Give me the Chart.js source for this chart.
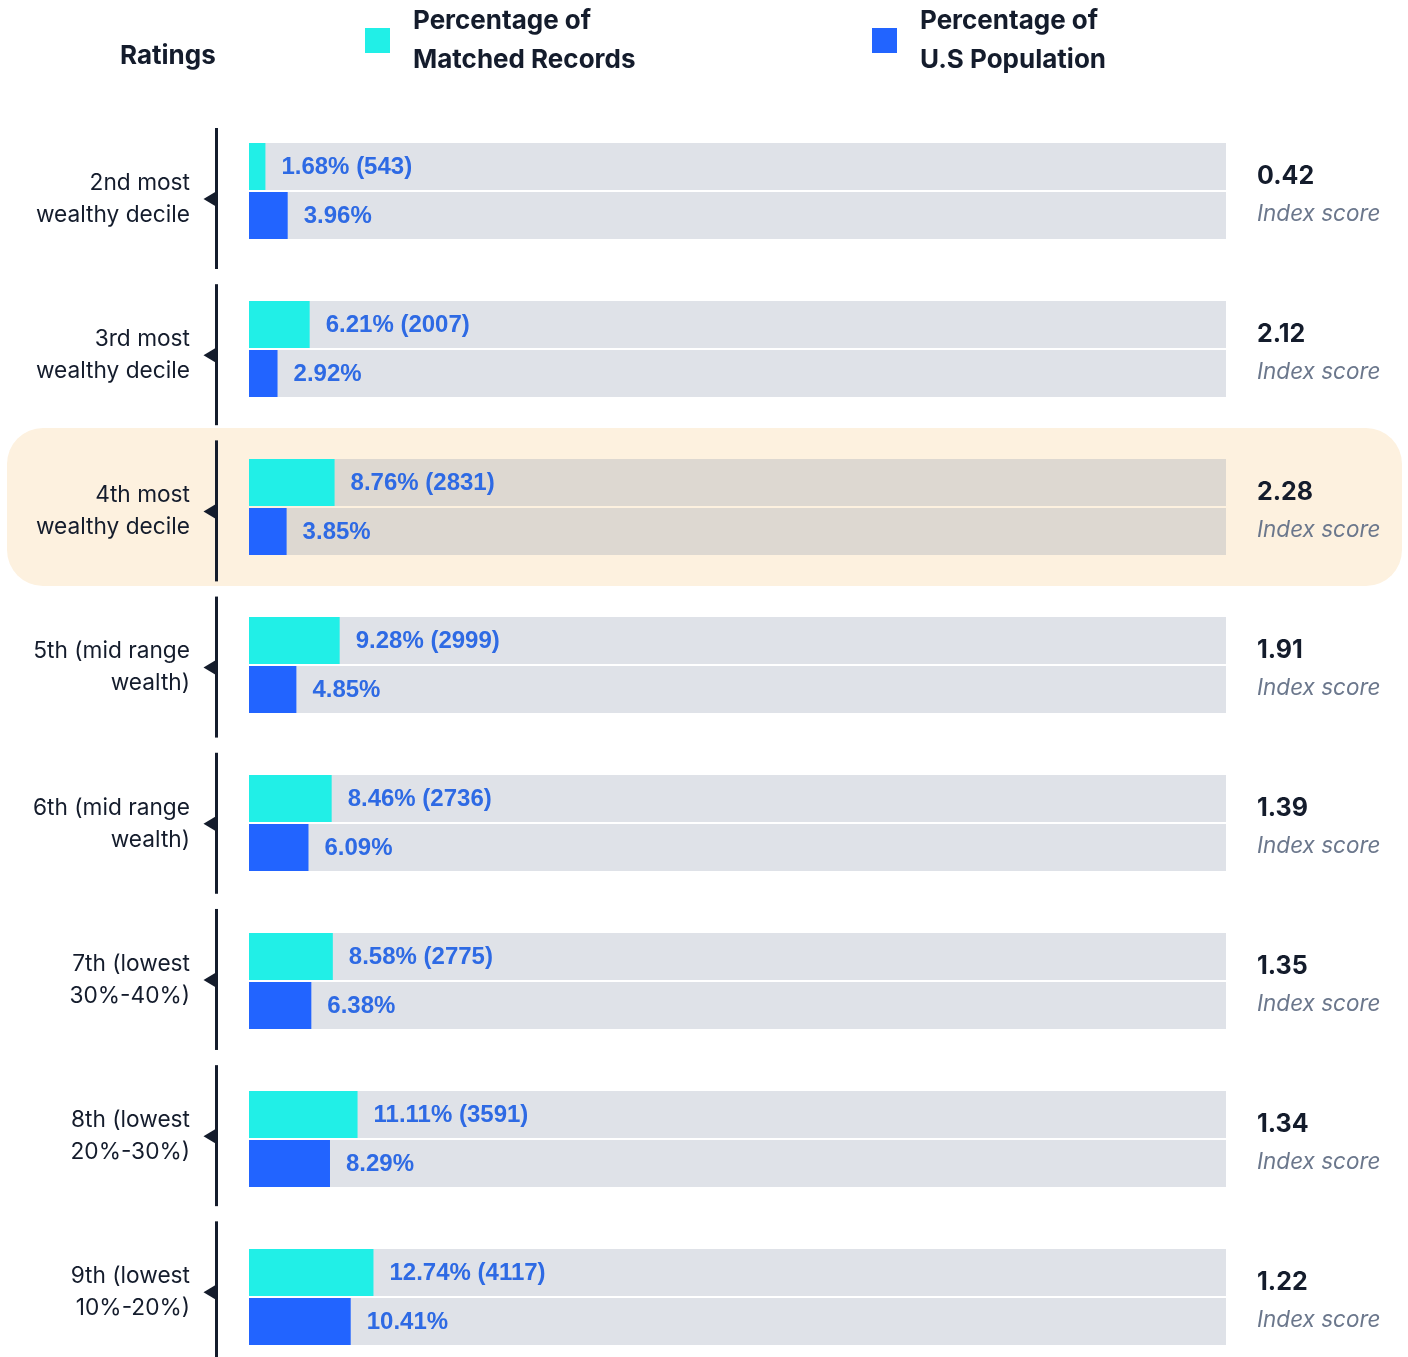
<!DOCTYPE html>
<html>
<head>
<meta charset="utf-8">
<title>Wealth decile ratings</title>
<script src="https://cdn.jsdelivr.net/npm/chart.js@4.4.1/dist/chart.umd.min.js"></script>
<style>
  html, body { margin: 0; padding: 0; background: #ffffff; overflow: hidden; }
  #wrap { position: relative; width: 1408px; height: 1357px; }
</style>
</head>
<body>
<div id="wrap"><canvas id="chart"></canvas></div>
<script>
// Rating buckets, top to bottom
const ratings = [
  ['2nd most', 'wealthy decile'],
  ['3rd most', 'wealthy decile'],
  ['4th most', 'wealthy decile'],
  ['5th (mid range', 'wealth)'],
  ['6th (mid range', 'wealth)'],
  ['7th (lowest', '30%-40%)'],
  ['8th (lowest', '20%-30%)'],
  ['9th (lowest', '10%-20%)']
];
// Share of matched records (%) and the record counts behind them
const matchedPct = [1.68, 6.21, 8.76, 9.28, 8.46, 8.58, 11.11, 12.74];
const matchedCount = [543, 2007, 2831, 2999, 2736, 2775, 3591, 4117];
// Share of the U.S. population (%)
const populationPct = [3.96, 2.92, 3.85, 4.85, 6.09, 6.38, 8.29, 10.41];
// Index score per bucket
const indexScores = ['0.42', '2.12', '2.28', '1.91', '1.39', '1.35', '1.34', '1.22'];
// Full-scale track behind each bar
const trackValues = ratings.map(() => 100);
const highlightRow = 2;
const headerTitle = 'Ratings';
const legendLabels = [['Percentage of', 'Matched Records'], ['Percentage of', 'U.S Population']];

const CYAN = '#21EFE7';
const BLUE = '#2264FF';
const TRACK = 'rgba(150,160,178,0.30)';
const INK = '#141c2c';
const VALUE_INK = '#2e6ae4';
const MUTED = '#6b778c';
const HIGHLIGHT = '#fdf1df';
const FONT = 'Inter, "Noto Sans", "DejaVu Sans", sans-serif';
const VALUE_FONT = '"Liberation Sans", Arial, sans-serif';

function roundRect(ctx, x, y, w, h, r) {
  ctx.beginPath();
  ctx.moveTo(x + r, y);
  ctx.lineTo(x + w - r, y);
  ctx.arcTo(x + w, y, x + w, y + r, r);
  ctx.lineTo(x + w, y + h - r);
  ctx.arcTo(x + w, y + h, x + w - r, y + h, r);
  ctx.lineTo(x + r, y + h);
  ctx.arcTo(x, y + h, x, y + h - r, r);
  ctx.lineTo(x, y + r);
  ctx.arcTo(x, y, x + r, y, r);
  ctx.closePath();
}

const decorations = {
  id: 'decorations',
  beforeDatasetsDraw(chart) {
    const { ctx } = chart;
    const y = chart.scales.y;
    const step = y.getPixelForValue(1) - y.getPixelForValue(0);
    const c = y.getPixelForValue(highlightRow);
    ctx.save();
    ctx.fillStyle = HIGHLIGHT;
    roundRect(ctx, 7, c - step / 2, 1395, step, 36);
    ctx.fill();
    ctx.restore();
  },
  afterDatasetsDraw(chart) {
    const { ctx } = chart;
    const y = chart.scales.y;
    const rows = chart.scales.rowLabels;
    ctx.save();

    // value labels at the end of each coloured bar
    ctx.font = 'bold 24px ' + VALUE_FONT;
    ctx.fillStyle = VALUE_INK;
    ctx.textBaseline = 'middle';
    ctx.textAlign = 'left';
    chart.getDatasetMeta(0).data.forEach((bar, i) => {
      ctx.fillText(matchedPct[i].toFixed(2) + '% (' + matchedCount[i] + ')', bar.x + 16, bar.y + 1);
    });
    chart.getDatasetMeta(1).data.forEach((bar, i) => {
      ctx.fillText(populationPct[i].toFixed(2) + '%', bar.x + 16, bar.y + 1);
    });

    // left column: rating names, divider segments and pointers
    ratings.forEach((lines, i) => {
      const cy = rows.getPixelForValue(i);
      ctx.fillStyle = INK;
      ctx.font = '22.7px ' + FONT;
      ctx.textAlign = 'right';
      ctx.textBaseline = 'middle';
      ctx.fillText(lines[0], 190, cy - 15.5);
      ctx.fillText(lines[1], 190, cy + 16.5);
      ctx.fillRect(215, cy - 70.5, 3, 141);
      ctx.beginPath();
      ctx.moveTo(203.5, cy + 0.5);
      ctx.lineTo(216, cy - 7);
      ctx.lineTo(216, cy + 8);
      ctx.closePath();
      ctx.fill();
    });

    // right column: index scores
    ctx.textAlign = 'left';
    indexScores.forEach((score, i) => {
      const cy = y.getPixelForValue(i);
      ctx.fillStyle = INK;
      ctx.font = 'bold 25px ' + FONT;
      ctx.fillText(score, 1257, cy - 15);
      ctx.fillStyle = MUTED;
      ctx.font = 'italic 22.5px ' + FONT;
      ctx.fillText('Index score', 1257, cy + 23);
    });

    // header: column title and legend
    ctx.fillStyle = INK;
    ctx.font = 'bold 26px ' + FONT;
    ctx.textBaseline = 'middle';
    ctx.fillText(headerTitle, 120, 56);
    const swatches = [[365, CYAN], [872, BLUE]];
    swatches.forEach(([sx, color], k) => {
      ctx.fillStyle = color;
      ctx.fillRect(sx, 28, 25, 25);
      ctx.fillStyle = INK;
      ctx.fillText(legendLabels[k][0], sx + 48, 21);
      ctx.fillText(legendLabels[k][1], sx + 48, 60);
    });
    ctx.restore();
  }
};

new Chart(document.getElementById('chart'), {
  type: 'bar',
  data: {
    labels: ratings,
    datasets: [
      { label: 'Percentage of Matched Records', data: matchedPct, backgroundColor: CYAN, stack: 'matched' },
      { label: 'Percentage of U.S Population', data: populationPct, backgroundColor: BLUE, stack: 'population' },
      { label: 'track-matched', data: trackValues, backgroundColor: TRACK, stack: 'matched' },
      { label: 'track-population', data: trackValues, backgroundColor: TRACK, stack: 'population' }
    ]
  },
  options: {
    indexAxis: 'y',
    responsive: true,
    maintainAspectRatio: false,
    animation: false,
    events: [],
    categoryPercentage: 98 / 158,
    barPercentage: 47 / 49,
    clip: false,
    layout: { padding: { left: 249, right: 182, top: 191, bottom: 60 } },
    scales: {
      x: { type: 'linear', min: 0, max: 100, stacked: false, display: false },
      y: { type: 'category', offset: false, display: false },
      // row positions for the rating column on the left
      rowLabels: { type: 'linear', axis: 'y', position: 'left', reverse: true, offset: false,
                   bounds: 'data', beginAtZero: false, grace: 0,
                   min: -0.048, max: 7.033, display: false }
    },
    plugins: { legend: { display: false }, tooltip: { enabled: false } }
  },
  plugins: [decorations]
});
</script>
</body>
</html>
